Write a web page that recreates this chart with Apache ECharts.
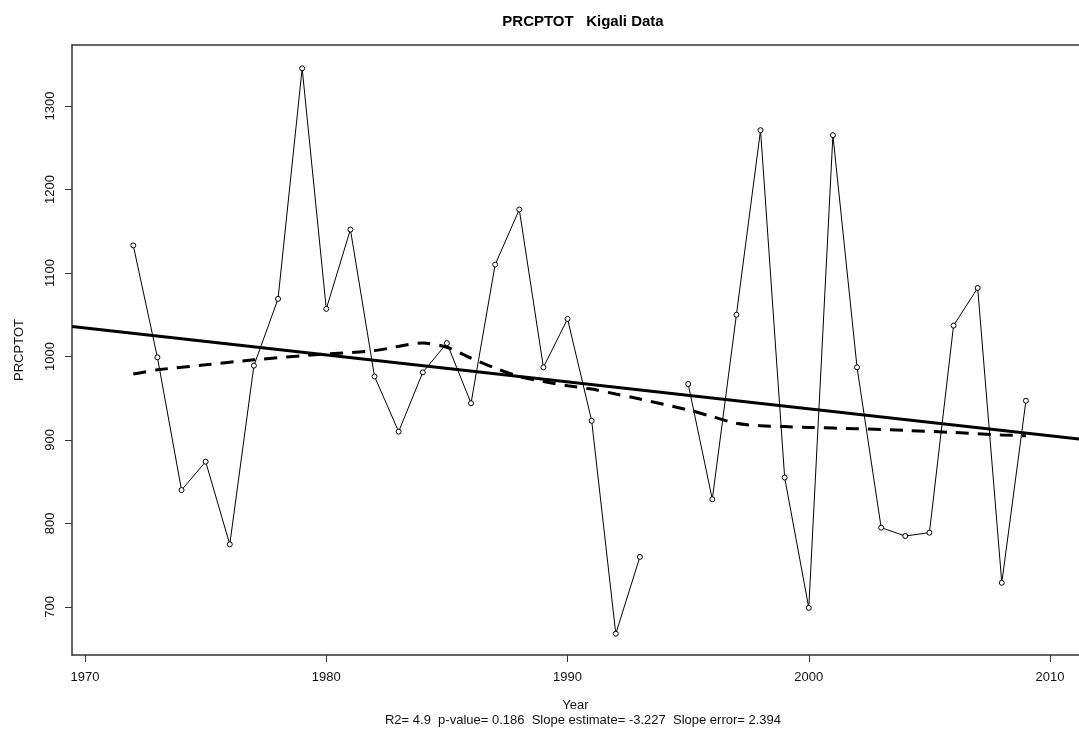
<!DOCTYPE html>
<html>
<head>
<meta charset="utf-8">
<script src="https://cdn.jsdelivr.net/npm/echarts@6/dist/echarts.min.js"></script>
<style>html,body{margin:0;padding:0;background:#fff;overflow:hidden;}#c{width:1079px;height:729px;}</style>
</head>
<body>
<div id="c"></div>
<script>
// Data
const years = [1972,1973,1974,1975,1976,1977,1978,1979,1980,1981,1982,1983,1984,1985,1986,1987,1988,1989,1990,1991,1992,1993,1994,1995,1996,1997,1998,1999,2000,2001,2002,2003,2004,2005,2006,2007,2008,2009];
const prcptot = [1133,999,840,874,775,989,1069,1345,1057,1152,976,910,981,1016,944,1110,1176,987,1045,923,668,760,null,967,829,1050,1271,855,699,1265,987,795,785,789,1037,1082,729,947];
const lowessYears = [1972,1973,1975,1977,1980,1982,1984,1985,1986,1987,1988,1989,1990,1991,1992,1993,1995,1996,1997,1998,1999,2000,2002,2004,2006,2008,2009];
const lowessValues = [979,984,990,996,1003,1007,1016,1011,998,986,976,970,965,961,955,949,936,928,920,917,916,915,913.5,911.5,909,906,905];
const slopeEstimate = -3.227;
const trendAt1990 = 969.6;
const xTicks = [1970,1980,1990,2000,2010];
const yTicks = [700,800,900,1000,1100,1200,1300];
const titleText = 'PRCPTOT   Kigali Data';
const subText = 'R2= 4.9  p-value= 0.186  Slope estimate= -3.227  Slope error= 2.394';

const xMin = 1969.46, xMax = 2011.2, yMin = 642.5, yMax = 1373;

const obs = years.map((y, i) => [y, prcptot[i]]);
const lowess = lowessYears.map((y, i) => [y, lowessValues[i]]);
const trend = [xMin, xMax].map(x => [x, trendAt1990 + slopeEstimate * (x - 1990)]);

const font = 'Liberation Sans, Arial, sans-serif';
const chart = echarts.init(document.getElementById('c'), null, {renderer: 'canvas'});
chart.setOption({
  animation: false,
  backgroundColor: '#fff',
  title: [
    {text: titleText, left: 578, top: 9, textAlign: 'center',
     textStyle: {fontFamily: font, fontSize: 15, fontWeight: 'bold', color: '#000'}},
    {text: subText, left: 578, top: 709, textAlign: 'center',
     textStyle: {fontFamily: font, fontSize: 13, fontWeight: 'normal', color: '#111'}}
  ],
  grid: {left: 72, top: 45, right: 0, bottom: 74, show: false, containLabel: false},
  xAxis: [{
    type: 'value', min: xMin, max: xMax, position: 'bottom',
    name: 'Year', nameLocation: 'middle', nameGap: 44,
    nameTextStyle: {fontFamily: font, fontSize: 13, color: '#111'},
    axisLine: {show: true, onZero: false, lineStyle: {color: '#333', width: 1.5}},
    axisTick: {show: true, length: 7, customValues: xTicks, lineStyle: {color: '#333'}},
    axisLabel: {customValues: xTicks, fontFamily: font, fontSize: 13, color: '#111', margin: 16,
                formatter: v => String(Math.round(v))},
    splitLine: {show: false}
  }, {
    type: 'value', min: xMin, max: xMax, position: 'top',
    axisLine: {show: true, onZero: false, lineStyle: {color: '#333', width: 1.5}},
    axisTick: {show: false}, axisLabel: {show: false}, splitLine: {show: false}
  }],
  yAxis: {
    type: 'value', min: yMin, max: yMax,
    name: 'PRCPTOT', nameLocation: 'middle', nameGap: 46, nameRotate: 90,
    nameTextStyle: {fontFamily: font, fontSize: 13, color: '#111'},
    axisLine: {show: true, onZero: false, lineStyle: {color: '#333', width: 1.5}},
    axisTick: {show: true, length: 7, customValues: yTicks, lineStyle: {color: '#333'}},
    axisLabel: {customValues: yTicks, rotate: 90, fontFamily: font, fontSize: 13, color: '#111', margin: 15,
                formatter: v => String(Math.round(v))},
    splitLine: {show: false}
  },
  series: [
    {type: 'line', data: trend, showSymbol: false, symbol: 'none',
     lineStyle: {color: '#000', width: 3}, z: 3},
    {type: 'line', data: lowess, showSymbol: false, symbol: 'none', smooth: 0.3,
     lineStyle: {color: '#000', width: 3, type: [13, 9]}, z: 3},
    {type: 'line', data: obs, connectNulls: false, symbol: 'circle', symbolSize: 5,
     itemStyle: {color: '#fff', borderColor: '#000', borderWidth: 1},
     lineStyle: {color: '#000', width: 1}, z: 4}
  ]
});
</script>
</body>
</html>
